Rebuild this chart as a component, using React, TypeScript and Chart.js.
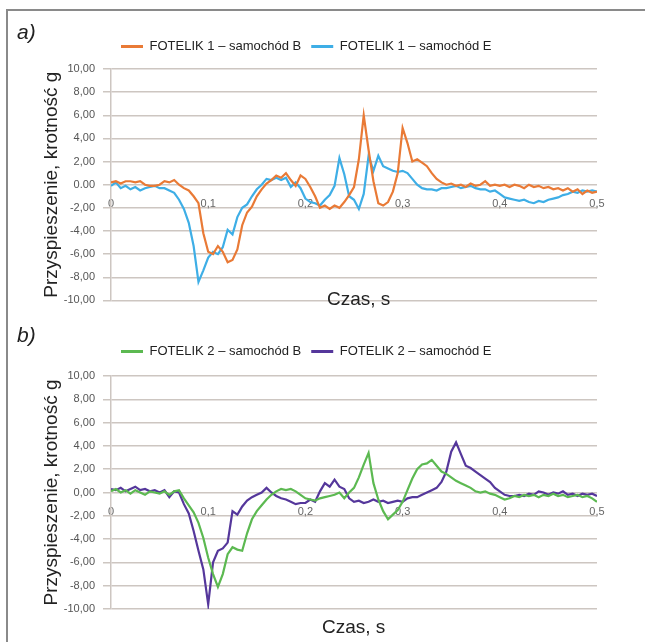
import React, { useEffect, useRef } from 'react';
import { Chart, registerables } from 'chart.js';
Chart.register(...registerables);

// time axis, s
const TIME = [
  0, 0.005, 0.01, 0.015, 0.02, 0.025, 0.03, 0.035, 0.04, 0.045,
  0.05, 0.055, 0.06, 0.065, 0.07, 0.075, 0.08, 0.085, 0.09, 0.095,
  0.1, 0.105, 0.11, 0.115, 0.12, 0.125, 0.13, 0.135, 0.14, 0.145,
  0.15, 0.155, 0.16, 0.165, 0.17, 0.175, 0.18, 0.185, 0.19, 0.195,
  0.2, 0.205, 0.21, 0.215, 0.22, 0.225, 0.23, 0.235, 0.24, 0.245,
  0.25, 0.255, 0.26, 0.265, 0.27, 0.275, 0.28, 0.285, 0.29, 0.295,
  0.3, 0.305, 0.31, 0.315, 0.32, 0.325, 0.33, 0.335, 0.34, 0.345,
  0.35, 0.355, 0.36, 0.365, 0.37, 0.375, 0.38, 0.385, 0.39, 0.395,
  0.4, 0.405, 0.41, 0.415, 0.42, 0.425, 0.43, 0.435, 0.44, 0.445,
  0.45, 0.455, 0.46, 0.465, 0.47, 0.475, 0.48, 0.485, 0.49, 0.495,
  0.5,
];

const LABELS_A = ['FOTELIK 1 – samochód B', 'FOTELIK 1 – samochód E'];
const LABELS_B = ['FOTELIK 2 – samochód B', 'FOTELIK 2 – samochód E'];

// a) FOTELIK 1 – samochód B
const A_CAR_B = [
  0.2, 0.3, 0.1, 0.3, 0.3, 0.2, 0.3, 0.0, -0.1, -0.1,
  0.0, 0.3, 0.2, 0.4, 0.0, -0.3, -0.5, -1.0, -1.6, -4.2,
  -5.8, -6.0, -5.3, -5.8, -6.7, -6.5, -5.6, -3.5, -2.4, -1.9,
  -1.0, -0.4, 0.1, 0.4, 0.8, 0.6, 1.0, 0.4, -0.1, 0.8,
  0.5, -0.2, -1.0, -2.0, -1.8, -2.1, -1.8, -2.0, -1.5, -0.9,
  -0.2, 2.2, 6.0, 3.0, 0.3, -1.6, -1.8, -1.5, -0.6, 1.0,
  4.9, 3.6, 2.0, 2.2, 1.9, 1.6, 1.0, 0.5, 0.2, 0.0,
  0.1, -0.1, 0.0, -0.2, 0.1, -0.1, 0.0, 0.3, -0.1, 0.0,
  -0.1, 0.0, -0.2, 0.0, -0.1, -0.3, 0.0, -0.2, -0.1, -0.3,
  -0.2, -0.4, -0.3, -0.5, -0.3, -0.6, -0.4, -0.8, -0.5, -0.7,
  -0.6,
];

// a) FOTELIK 1 – samochód E
const A_CAR_E = [
  -0.1, 0.2, -0.3, -0.1, -0.4, -0.2, -0.5, -0.3, -0.2, -0.1,
  -0.3, -0.3, -0.5, -0.7, -1.3, -2.1, -3.3, -5.3, -8.4, -7.4,
  -6.3, -5.8, -6.0, -5.4, -3.9, -4.3, -2.8, -2.0, -1.7, -1.0,
  -0.4, 0.0, 0.5, 0.4, 0.6, 0.4, 0.6, -0.2, 0.2, -0.3,
  -1.2, -1.5, -1.6, -1.8, -1.3, -0.9, -0.1, 2.3, 0.9, -1.0,
  -1.3, -2.1, -0.8, 2.5, 1.2, 2.5, 1.6, 1.4, 1.2, 1.1,
  1.2, 1.0, 0.5, 0.0, -0.3, -0.4, -0.4, -0.5, -0.3, -0.3,
  -0.2, -0.1, -0.3, -0.2, -0.1, -0.3, -0.4, -0.4, -0.6, -0.5,
  -0.8, -1.1, -1.2, -1.3, -1.4, -1.3, -1.5, -1.6, -1.4, -1.5,
  -1.3, -1.2, -1.1, -0.9, -0.8, -0.6, -0.7, -0.5, -0.6, -0.5,
  -0.6,
];

// b) FOTELIK 2 – samochód B
const B_CAR_B = [
  0.1, 0.3, 0.0, 0.2, -0.1, 0.2, 0.0, -0.2, 0.1, 0.0,
  -0.1, 0.1, -0.2, 0.1, 0.2, -0.5, -1.1, -1.7, -2.6, -3.9,
  -5.6, -7.0, -8.1, -7.0, -5.3, -4.7, -4.9, -5.0, -3.5, -2.3,
  -1.6, -1.1, -0.6, -0.2, 0.1, 0.3, 0.2, 0.3, 0.1, -0.2,
  -0.5, -0.6, -0.7, -0.5, -0.4, -0.3, -0.2, 0.0, -0.5, 0.0,
  0.4, 1.3, 2.4, 3.4, 0.8, -0.6, -1.6, -2.3, -1.9, -1.5,
  -0.8, 0.2, 1.2, 2.0, 2.4, 2.5, 2.8, 2.3, 1.8, 1.6,
  1.3, 1.0, 0.8, 0.6, 0.4, 0.1, 0.0, 0.1, -0.1, -0.2,
  -0.4, -0.6, -0.5, -0.3, -0.4, -0.2, -0.3, -0.2, -0.4, -0.2,
  -0.3, -0.1, -0.3, -0.2, -0.4, -0.3, -0.2, -0.4, -0.3, -0.5,
  -0.8,
];

// b) FOTELIK 2 – samochód E
const B_CAR_E = [
  0.3, 0.2, 0.4, 0.1, 0.3, 0.5, 0.2, 0.3, 0.1, 0.2,
  0.0, 0.2, -0.4, 0.1, 0.0, -1.0, -1.8, -3.3, -5.0, -6.6,
  -9.6, -6.0, -5.0, -4.8, -4.3, -1.6, -1.9, -1.2, -0.7, -0.4,
  -0.2, 0.0, 0.4, 0.0, -0.3, -0.5, -0.6, -0.8, -1.0, -0.9,
  -0.9, -0.6, -0.8, 0.1, 0.8, 0.5, 1.1, 0.5, 0.3, -0.5,
  -0.8, -0.7, -0.9, -0.8, -0.6, -0.8, -0.7, -0.9, -0.8, -0.7,
  -0.8, -0.5, -0.4, -0.4, -0.2, 0.0, 0.2, 0.4, 0.9, 1.8,
  3.5, 4.3, 3.3, 2.3, 2.1, 1.8, 1.5, 1.2, 0.9, 0.4,
  0.1, -0.2, -0.3, -0.3, -0.2, -0.3, -0.1, -0.2, 0.1, 0.0,
  -0.2, 0.0, -0.1, 0.1, -0.2, -0.1, -0.3, -0.1, -0.2, -0.1,
  -0.3,
];

const COLORS_A = ['#E97A36', '#3EAEE6'];
const COLORS_B = ['#5CB951', '#55379B'];

const SANS = "'Liberation Sans', Arial, sans-serif";
const GRID = '#cdc6c1';
const Y_TITLE = 'Przyspieszenie, krotność g';

function legendGap(extra: number) {
  return {
    id: 'legendGap',
    afterInit(chart: any) {
      const lg = chart.legend;
      if (!lg) return;
      const fit = lg.fit.bind(lg);
      lg.fit = function () {
        fit();
        this.height += extra;
      };
    },
  };
}

function makeConfig(labels: string[], s1: number[], s2: number[], colors: string[], zeroLabel: string, pad: any, gap: number): any {
  return {
    type: 'line',
    data: {
      labels: TIME,
      datasets: [
        { label: labels[0], data: s1, borderColor: colors[0], backgroundColor: colors[0], borderWidth: 2.2, pointRadius: 0, tension: 0 },
        { label: labels[1], data: s2, borderColor: colors[1], backgroundColor: colors[1], borderWidth: 2.2, pointRadius: 0, tension: 0 },
      ],
    },
    plugins: [legendGap(gap)],
    options: {
      responsive: false,
      animation: false,
      events: [],
      layout: { padding: pad },
      plugins: {
        tooltip: { enabled: false },
        legend: {
          display: true,
          position: 'top',
          align: 'start',
          fullSize: false,
          labels: {
            boxWidth: 22,
            boxHeight: 3,
            padding: 10,
            color: '#222',
            font: { family: SANS, size: 13 },
            generateLabels: (chart: any) =>
              Chart.defaults.plugins.legend.labels.generateLabels(chart).map((l: any) => ({ ...l, lineWidth: 0 })),
          },
        },
      },
      scales: {
        x: {
          type: 'linear',
          min: 0,
          max: 0.5,
          position: { y: 0 },
          grid: { display: false, drawTicks: false },
          border: { display: false },
          ticks: {
            stepSize: 0.1,
            padding: 13,
            color: '#666',
            font: { family: SANS, size: 11 },
            maxRotation: 0,
            callback: (v: number) => (v === 0 ? '0' : (Math.round(v * 10) / 10).toString().replace('.', ',')),
          },
        },
        y: {
          type: 'linear',
          min: -10,
          max: 10,
          grid: { color: GRID, lineWidth: 1.5, tickLength: 8 },
          border: { color: GRID, width: 1.5 },
          ticks: {
            stepSize: 2,
            padding: 8,
            color: '#555',
            font: { family: SANS, size: 11 },
            callback: (v: number) => (v === 0 ? zeroLabel : v.toFixed(2).replace('.', ',')),
          },
          title: {
            display: true,
            text: Y_TITLE,
            color: '#222',
            font: { family: SANS, size: 19 },
            padding: { top: 30, bottom: 0 },
          },
          afterFit: (s: any) => { s.width = 101; },
        },
      },
    },
  };
}

function Panel(props: { top: number; height: number; config: any }) {
  const ref = useRef<HTMLCanvasElement>(null);
  useEffect(() => {
    const chart = new Chart(ref.current as HTMLCanvasElement, props.config);
    return () => chart.destroy();
  }, []);
  return (
    <canvas
      ref={ref}
      width={645}
      height={props.height}
      style={{ position: 'absolute', left: 0, top: props.top, width: 645, height: props.height }}
    />
  );
}

const textStyle: any = { position: 'absolute', fontFamily: SANS, color: '#222', whiteSpace: 'nowrap', lineHeight: 1 };

export default function App() {
  const cfgA = makeConfig(LABELS_A, A_CAR_B, A_CAR_E, COLORS_A, '0.00', { left: 10, right: 48, top: 30, bottom: 7 }, 6);
  const cfgB = makeConfig(LABELS_B, B_CAR_B, B_CAR_E, COLORS_B, '0,00', { left: 10, right: 48, top: 20, bottom: 33 }, 8);
  return (
    <div style={{ position: 'absolute', left: 0, top: 0, width: 645, height: 642, overflow: 'hidden', background: '#fff' }}>
      <div style={{ position: 'absolute', left: 6, top: 9, width: 700, height: 700, borderLeft: '2px solid #8a8a8a', borderTop: '2px solid #8a8a8a' }} />
      <Panel top={0} height={315} config={cfgA} />
      <Panel top={315} height={327} config={cfgB} />
      <div style={{ ...textStyle, left: 17, top: 21, fontSize: 21, fontStyle: 'italic' }}>a)</div>
      <div style={{ ...textStyle, left: 17, top: 324, fontSize: 21, fontStyle: 'italic' }}>b)</div>
      <div style={{ ...textStyle, left: 327, top: 289, fontSize: 19 }}>Czas, s</div>
      <div style={{ ...textStyle, left: 322, top: 617, fontSize: 19 }}>Czas, s</div>
    </div>
  );
}
